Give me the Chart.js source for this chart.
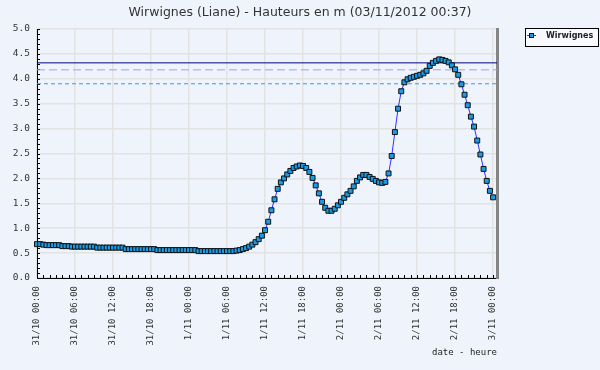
<!DOCTYPE html>
<html>
<head>
<meta charset="utf-8">
<script src="https://cdn.jsdelivr.net/npm/chart.js@4"></script>
<style>
  html, body { margin: 0; padding: 0; background: #eff4fc; }
  #wrap { width: 600px; height: 370px; }
</style>
</head>
<body>
<div id="wrap"><canvas id="graphe"></canvas></div>
<script>
const titre = "Wirwignes (Liane) - Hauteurs en m (03/11/2012 00:37)";
const station = "Wirwignes";
const titreAxeX = "date - heure";

// une mesure toutes les 30 min depuis le 31/10 00:00
const pasHeures = 0.5;
const finHeures = 72.62; // 3/11 00:37

const etiquettesX = [
  "31/10 00:00", "31/10 06:00", "31/10 12:00", "31/10 18:00",
  "1/11 00:00", "1/11 06:00", "1/11 12:00", "1/11 18:00",
  "2/11 00:00", "2/11 06:00", "2/11 12:00", "2/11 18:00",
  "3/11 00:00"
];

const hauteurs = [
  0.68, 0.68, 0.67,
  0.66, 0.66, 0.66, 0.66, 0.66,
  0.64, 0.64, 0.64,
  0.63, 0.63, 0.63, 0.63, 0.63, 0.63, 0.63, 0.63,
  0.61, 0.61, 0.61, 0.61, 0.61, 0.61, 0.61, 0.61, 0.61,
  0.58, 0.58, 0.58, 0.58, 0.58, 0.58, 0.58, 0.58, 0.58, 0.58,
  0.56, 0.56, 0.56, 0.56, 0.56, 0.56, 0.56, 0.56, 0.56, 0.56, 0.56, 0.56, 0.56,
  0.54, 0.54, 0.54, 0.54, 0.54, 0.54, 0.54, 0.54, 0.54, 0.54, 0.54, 0.54,
  0.55, 0.56, 0.58, 0.60, 0.63, 0.67, 0.72, 0.78, 0.85, 0.96,
  1.13, 1.36, 1.58, 1.79, 1.92, 2.00, 2.08, 2.15, 2.21, 2.24,
  2.26, 2.25, 2.21, 2.13, 2.01, 1.86, 1.70, 1.53, 1.41, 1.35,
  1.35, 1.39, 1.46, 1.53, 1.61, 1.68, 1.75, 1.84, 1.95, 2.02,
  2.07, 2.07, 2.03, 1.99, 1.95, 1.92, 1.91, 1.93, 2.10, 2.45,
  2.93, 3.40, 3.75, 3.93, 3.99, 4.02, 4.04, 4.06, 4.08, 4.11,
  4.16, 4.26, 4.32, 4.36, 4.39, 4.38, 4.36, 4.33, 4.27, 4.19,
  4.08, 3.89, 3.68, 3.47, 3.24, 3.04, 2.76, 2.48, 2.19, 1.95,
  1.75, 1.62
];

const seuils = [4.32, 4.18, 3.90];
const couleursSeuils = ["#000080", "#a0a0f6", "#2f9ff0"];
const tiretsSeuils = [[], [8, 4], [4, 3]];

const fond = {
  id: "fond",
  beforeDraw(chart) {
    const ctx = chart.ctx;
    ctx.save();
    ctx.fillStyle = "#eff4fc";
    ctx.fillRect(0, 0, chart.width, chart.height);
    ctx.restore();
  }
};

// petites graduations vers l'intérieur
const graduations = {
  id: "graduations",
  beforeDatasetsDraw(chart) {
    const ctx = chart.ctx;
    const a = chart.chartArea;
    const sx = chart.scales.x, sy = chart.scales.y;
    ctx.save();
    ctx.strokeStyle = "#000";
    ctx.lineWidth = 1;
    ctx.beginPath();
    for (let k = 0; k <= 50; k++) {
      const py = Math.round(sy.getPixelForValue(k / 10)) + 0.5;
      ctx.moveTo(a.left, py);
      ctx.lineTo(a.left + 3, py);
    }
    for (let h = 0; h <= 72; h++) {
      const px = Math.round(sx.getPixelForValue(h)) + 0.5;
      ctx.moveTo(px, a.bottom);
      ctx.lineTo(px, a.bottom - 3);
    }
    ctx.stroke();
    ctx.restore();
  }
};

const legende = {
  id: "legende",
  afterDraw(chart) {
    const ctx = chart.ctx;
    const ds = chart.data.datasets[0];
    ctx.save();
    ctx.fillStyle = "#f8faff";
    ctx.fillRect(525.5, 28.5, 73, 18);
    ctx.strokeStyle = "#000";
    ctx.lineWidth = 1;
    ctx.strokeRect(525.5, 28.5, 73, 18);
    ctx.strokeStyle = ds.borderColor;
    ctx.beginPath();
    ctx.moveTo(527, 35.5);
    ctx.lineTo(536, 35.5);
    ctx.stroke();
    ctx.fillStyle = ds.pointBackgroundColor;
    ctx.fillRect(529, 33, 5, 5);
    ctx.strokeStyle = ds.pointBorderColor;
    ctx.strokeRect(529.5, 33.5, 4, 4);
    ctx.fillStyle = "#222";
    ctx.font = "bold 8px 'DejaVu Sans'";
    ctx.textBaseline = "middle";
    ctx.fillText(ds.label, 546, 36);
    ctx.restore();
  }
};

const jeux = [{
  label: station,
  data: hauteurs.map((h, i) => ({ x: i * pasHeures, y: h })),
  borderColor: "#3030ff",
  borderWidth: 1,
  pointStyle: "rect",
  pointRadius: 3.5,
  pointBackgroundColor: "#1a9be6",
  pointBorderColor: "#111",
  pointBorderWidth: 1,
  clip: false,
  order: 0
}];

seuils.forEach((s, i) => {
  jeux.push({
    label: "seuil " + (i + 1),
    data: [{ x: 0, y: s }, { x: finHeures, y: s }],
    borderColor: couleursSeuils[i],
    borderDash: tiretsSeuils[i],
    borderWidth: 1,
    pointRadius: 0,
    order: 1
  });
});

new Chart(document.getElementById("graphe"), {
  type: "line",
  data: { datasets: jeux },
  options: {
    responsive: true,
    maintainAspectRatio: false,
    animation: false,
    layout: { padding: 0 },
    plugins: {
      legend: { display: false },
      tooltip: { enabled: false },
      title: {
        display: true,
        text: titre,
        color: "#333",
        font: { family: "'DejaVu Sans'", size: 12.5, weight: "normal" },
        padding: { top: 5, bottom: 9 }
      }
    },
    scales: {
      x: {
        type: "linear",
        min: 0,
        max: finHeures,
        afterBuildTicks: (s) => { s.ticks = etiquettesX.map((_, i) => ({ value: i * 6 })); },
        afterFit: (s) => { s.height = 92; },
        border: { color: "#000", width: 1 },
        grid: { color: "#e2e2e2", lineWidth: 1.5, drawTicks: false },
        ticks: {
          autoSkip: false,
          minRotation: 90,
          maxRotation: 90,
          padding: 8,
          color: "#333",
          font: { family: "'DejaVu Sans Mono'", size: 9 },
          callback: (v) => etiquettesX[Math.round(v / 6)]
        },
        title: {
          display: true,
          text: titreAxeX,
          align: "end",
          color: "#222",
          font: { family: "'DejaVu Sans Mono'", size: 9 },
          padding: { top: 0, bottom: 12 }
        }
      },
      y: {
        min: 0,
        max: 5,
        afterFit: (s) => { s.width = 37; },
        border: { color: "#000", width: 1 },
        grid: { color: "#e2e2e2", lineWidth: 1.5, drawTicks: false },
        ticks: {
          stepSize: 0.5,
          padding: 7,
          color: "#333",
          font: { family: "'DejaVu Sans Mono'", size: 9.5 },
          callback: (v) => v.toFixed(1)
        }
      },
      bord: {
        position: "right",
        afterFit: (s) => { s.width = 103; },
        border: { color: "#858585", width: 3 },
        grid: { drawOnChartArea: false, drawTicks: false },
        ticks: { display: false }
      }
    }
  },
  plugins: [fond, graduations, legende]
});
</script>
</body>
</html>
